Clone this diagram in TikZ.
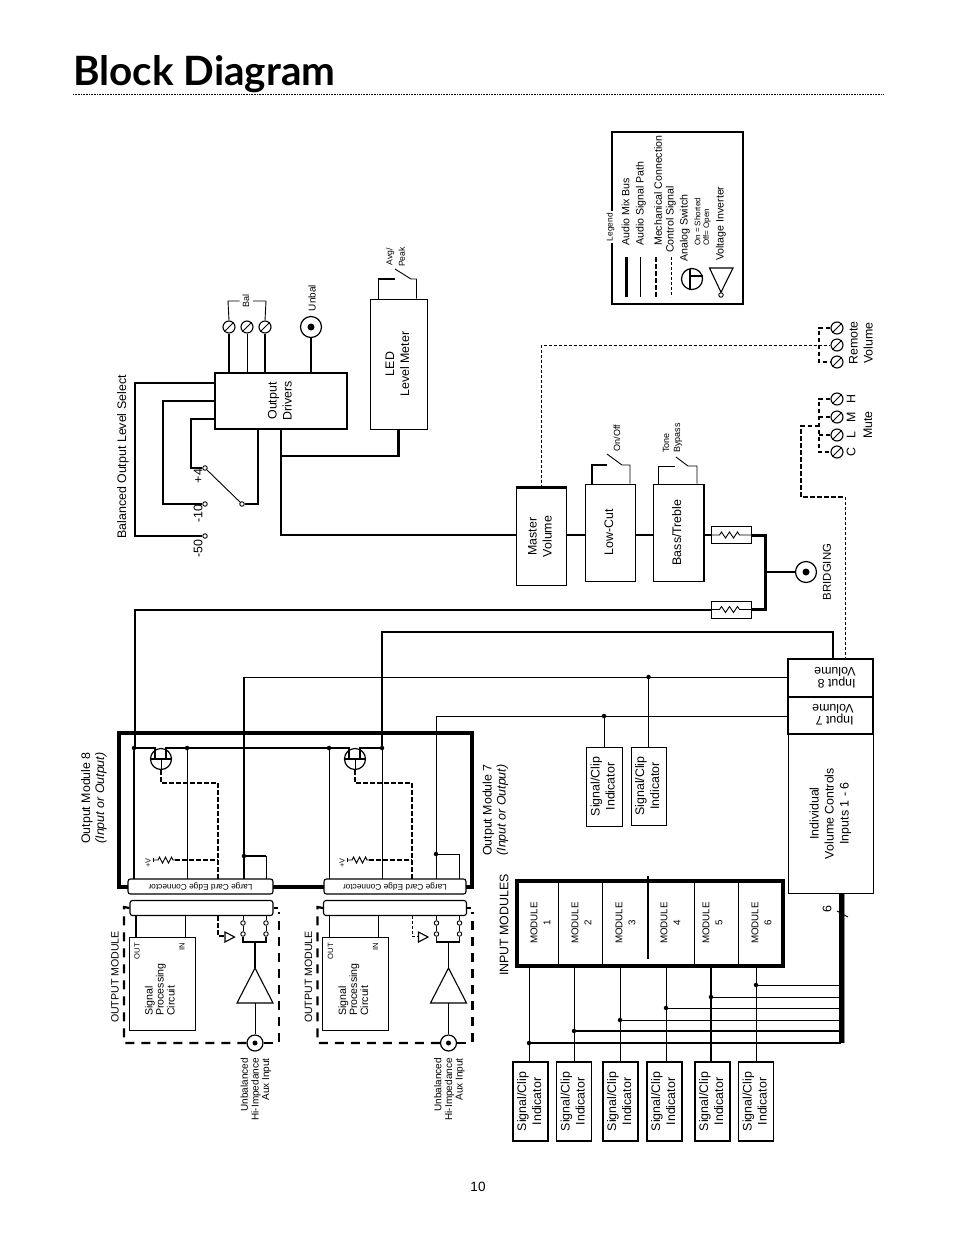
\documentclass[tikz,border=0pt]{standalone}
\usepackage{fontspec}
\setmainfont{Liberation Sans}
\newfontfamily\titlefont{Lato}
\newcommand{\vtxt}[1]{\rotatebox{90}{\begin{tabular}{@{}c@{}}#1\end{tabular}}}
\tikzset{
    box/.style={draw, line width=1pt, fill=white, inner sep=0pt, font=\fontsize{12.4}{15}\selectfont},
    lbl/.style={rotate=90, inner sep=0pt, align=center, font=\fontsize{12.4}{14}\selectfont},
    tiny lbl/.style={lbl, font=\fontsize{9}{11}\selectfont},
    small lbl/.style={lbl, font=\fontsize{10.6}{11}\selectfont},
    bus/.style={line width=2.6pt},
    med/.style={line width=1.7pt},
    sig/.style={line width=0.9pt},
    ctrl/.style={line width=0.9pt, dash pattern=on 3pt off 2pt},
    mech/.style={line width=1.8pt, dash pattern=on 4.5pt off 2.5pt},
    frame/.style={line width=2.2pt, dash pattern=on 9pt off 7pt},
    dot/.style={circle, fill, inner sep=0pt, minimum size=4.5pt},
    tap/.style={circle, draw, fill=white, line width=0.9pt, inner sep=0pt, minimum size=4.5pt},
    screw/.style={circle, draw, line width=1.1pt, inner sep=0pt, minimum size=12pt},
    jack/.style={circle, draw, line width=1.2pt, fill=white, inner sep=0pt, minimum size=#1},
    pin/.style={circle, fill, inner sep=0pt, minimum size=7pt},
    cardedge/.style={draw, line width=1.1pt, fill=white, rounded corners=2.5pt, inner sep=0pt, minimum height=15pt}
}
\begin{document}
\begin{tikzpicture}[x=1pt, y=-1pt]
    \useasboundingbox (0,0) rectangle (954,1235);

    % title
    \node[anchor=base west, inner sep=0pt, font=\titlefont\bfseries\fontsize{40.4}{42}\selectfont] (title) at (73,85) {Block Diagram};
    \coordinate (rulea) at (73,94);
    \coordinate (ruleb) at (884,94);
    \draw[line width=0.8pt, dash pattern=on 0.8pt off 0.8pt] (rulea) -- (ruleb);
    \node[inner sep=0pt, font=\fontsize{13.5}{15}\selectfont] (pageno) at (478,1187) {10};

    % legend
    \node[draw, line width=1.6pt, minimum width=131pt, minimum height=172pt] (legend) at (677.5,218) {};
    \node[tiny lbl, font=\fontsize{8.4}{10}\selectfont, fill=white, inner xsep=2pt, inner ysep=1.5pt] (legendname) at (610.5,227) {Legend};
    \foreach \n/\x/\y/\t in {a/625.5/246/Audio Mix Bus, b/641/246/Audio Signal Path, c/658/246/Mechanical Connection, d/671/253/Control Signal, e/685/262/Analog Switch, f/721/261/Voltage Inverter}
        \node[rotate=90, anchor=west, inner sep=0pt, font=\fontsize{10.6}{12}\selectfont] (legend\n) at (\x,\y) {\t};
    \node[rotate=90, anchor=west, inner sep=0pt, font=\fontsize{8}{9}\selectfont] (legendon) at (697.5,246) {On = Shorted};
    \node[rotate=90, anchor=west, inner sep=0pt, font=\fontsize{8}{9}\selectfont] (legendoff) at (707,246) {Off= Open};
    \coordinate (keya) at (626,257);
    \coordinate (keyb) at (640,257);
    \coordinate (keyc) at (656,257);
    \coordinate (keyd) at (671,257);
    \draw[line width=3pt] (keya) -- ++(0,40);
    \draw[sig] (keyb) -- ++(0,40);
    \draw[mech] (keyc) -- ++(0,40);
    \draw[ctrl] (keyd) -- ++(0,40);
    \node[circle, draw, line width=1.2pt, inner sep=0pt, minimum size=21pt] (keyfet) at (692,279) {};
    \draw[line width=1.2pt] (690,268.5) -- (690,289.5);
    \draw[line width=1.2pt] (690,276) -- (702.5,276);
    \node[circle, draw, sig, inner sep=0pt, minimum size=4.5pt] (keyinv) at (721,295) {};
    \draw[line width=1.1pt] (709.5,268) -- (733,268) -- (keyinv.north) -- cycle;

    % output drivers
    \node[box, line width=1.3pt, minimum width=132pt, minimum height=56pt] (drivers) at (281,401) {\vtxt{Output\\Drivers}};
    \node[box, minimum width=57pt, minimum height=130pt] (meter) at (398.5,364) {\vtxt{LED\\Level Meter}};
    \node[screw] (bala) at (229,327) {};
    \node[screw] (balb) at (247,327) {};
    \node[screw] (balc) at (265,327) {};
    \foreach \s in {bala,balb,balc}
        \draw[line width=1pt] (\s.south west) -- (\s.north east);
    \node[jack=21pt] (unbal) at (311,327) {};
    \node[pin] (unbalpin) at (unbal) {};
    \draw[med] (bala.south) -- (bala |- drivers.north);
    \draw[sig] (balb.south) -- (balb |- drivers.north);
    \draw[med] (balc.south) -- (balc |- drivers.north);
    \draw[med] (unbal.south) -- (unbal |- drivers.north);
    \node[tiny lbl] (ballbl) at (246,301) {Bal};
    \node[tiny lbl, font=\fontsize{10}{11}\selectfont] (unballbl) at (312,298) {Unbal};
    \coordinate (bracka) at (228,301);
    \coordinate (brackb) at (266,301);
    \draw[sig] (bala.north) -- (bracka) -- (239.5,301);
    \draw[sig] (balc.north) -- (brackb) -- (253,301);

    % meter switch
    \node[tiny lbl, font=\fontsize{8.6}{12.5}\selectfont] (avglbl) at (395.5,257) {Avg/\\Peak};
    \coordinate (avgl) at (395,279);
    \coordinate (avgr) at (411,279);
    \draw[med] ([xshift=-20pt]meter.north) |- (avgl);
    \draw[sig] ([xshift=18pt]meter.north) |- (avgr) -- (395,269);

    % level select
    \node[lbl] (sellbl) at (123,457) {Balanced Output Level Select};
    \node[tap] (tfour) at (205,468) {};
    \node[tap] (tten) at (205,504) {};
    \node[tap] (tfifty) at (205,536) {};
    \node[tap] (twiper) at (242,504) {};
    \node[lbl] (fourlbl) at (198,476) {+4};
    \node[lbl] (tenlbl) at (198,514) {-10};
    \node[lbl] (fiftylbl) at (198,549) {-50};
    \coordinate (sela) at (135,383);
    \coordinate (selb) at (163,401);
    \coordinate (selc) at (191,419);
    \coordinate (seld) at (258,429);
    \draw[line width=1.3pt] (sela -| drivers.west) -- (sela) |- (tfifty.west);
    \draw[med] (selb -| drivers.west) -- (selb) |- (tten.west);
    \draw[line width=1.3pt] (selc -| drivers.west) -- (selc) |- (tfour.west);
    \draw[sig] (tfour) -- (twiper);
    \draw[med] (twiper.east) -| (seld);

    % main bus
    \node[box, minimum width=50pt, minimum height=97pt] (master) at (541,536.5) {\vtxt{Master\\Volume}};
    \node[box, minimum width=50pt, minimum height=97pt] (lowcut) at (610,532.5) {\vtxt{Low-Cut}};
    \node[box, minimum width=50pt, minimum height=97pt] (bass) at (678,532.5) {\vtxt{Bass/Treble}};
    \draw[line width=2.4pt] (master.north west) -- (master.north east);
    \draw[line width=2pt] (bass.north east) -- (bass.south east);
    \coordinate (busx) at (281,535);
    \coordinate (busy) at (281,456);
    \draw[bus] (busx |- drivers.south) -- (busx) -- (busx -| master.west);
    \draw[bus] (busy) -| (meter.south);
    \draw[bus] (master.east |- busx) -- (lowcut.west |- busx);
    \draw[bus] (lowcut.east |- busx) -- (bass.west |- busx);

    % low cut and tone switches
    \node[tiny lbl] (onofflbl) at (617,438) {On/Off};
    \node[tiny lbl, align=left, anchor=west] (tonelbl) at (672.5,453) {Tone\\Bypass};
    \coordinate (cutl) at (607,465);
    \coordinate (cutr) at (622,465);
    \coordinate (tonel) at (675,466);
    \coordinate (toner) at (688,466);
    \draw[med] ([xshift=-18pt]lowcut.north) |- (cutl);
    \draw[sig] ([xshift=20pt]lowcut.north) |- (cutr) -- (607,454);
    \draw[sig] ([xshift=-20pt]bass.north) |- (tonel);
    \draw[sig] ([xshift=19pt]bass.north) |- (toner) -- (676,457);

    % bridging
    \node[box, minimum width=40pt, minimum height=17pt] (resa) at (731,535) {};
    \node[box, minimum width=40pt, minimum height=17pt] (resb) at (731,609.5) {};
    \foreach \r in {resa,resb}
        \draw[sig] (\r.west) -- ++(9,0) -- ++(2,-3) -- ++(4,6) -- ++(4,-6) -- ++(4,6) -- ++(4,-6) -- ++(2,3) -- (\r.east);
    \node[jack=21pt] (bridge) at (806,572) {};
    \node[pin] (bridgepin) at (bridge) {};
    \node[lbl, font=\fontsize{11.4}{13}\selectfont] (bridgelbl) at (827,572) {BRIDGING};
    \coordinate (bridgex) at (765,572);
    \draw[bus] (bass.east |- resa) -- (resa.west);
    \draw[line width=3pt] (resa.east) -| (bridgex) |- (resb.east);
    \draw[med] (bridgex) -- (bridge.west);

    % remote volume and mute
    \foreach \n/\y in {ra/328, rb/345, rc/362, ma/399, mb/417, mc/435, md/452} {
        \node[screw] (\n) at (837,\y) {};
        \draw[line width=1pt] (\n.south west) -- (\n.north east);
    }
    \node[lbl, font=\fontsize{12.4}{15}\selectfont] (remotelbl) at (861,343) {Remote\\Volume};
    \node[lbl] (hlbl) at (851,399) {H};
    \node[lbl] (mlbl) at (851,417) {M};
    \node[lbl] (llbl) at (851,435) {L};
    \node[lbl] (clbl) at (851,452) {C};
    \node[lbl] (mutelbl) at (868,425) {Mute};
    \coordinate (rbus) at (819,345);
    \coordinate (mbus) at (819,426);
    \coordinate (mleg) at (801,497);
    \coordinate (mdrop) at (845,497);
    \draw[ctrl] (master.north) |- (rb.west);
    \draw[mech, line width=1.2pt] (ra.west) -| (rbus) |- (rc.west);
    \draw[mech, line width=1.2pt] (ma.west) -| (mbus) |- (md.west);
    \draw[mech, line width=1.2pt] (mb.west) -- (mb -| mbus);
    \draw[mech, line width=1.2pt] (mc.west) -- (mc -| mbus);
    \draw[mech] (mbus) -| (mleg) -- (mdrop);

    % volume controls
    \node[draw, line width=1.6pt, minimum width=85pt, minimum height=38pt] (inpeight) at (830.5,678) {};
    \node[draw, line width=1.6pt, minimum width=85pt, minimum height=37pt] (inpseven) at (830.5,715.5) {};
    \node[box, minimum width=85pt, minimum height=159pt] (indiv) at (830.5,813.5) {\vtxt{Individual\\Volume Controls\\Inputs 1 - 6}};
    \node[rotate=180, align=left, inner sep=0pt, font=\fontsize{12.4}{12}\selectfont] (eightlbl) at (835,677.5) {Input 8\\Volume};
    \node[rotate=180, align=left, inner sep=0pt, font=\fontsize{12.4}{12}\selectfont] (sevenlbl) at (833,714.5) {Input 7\\Volume};
    \draw[ctrl] (mdrop) -- (mdrop |- inpeight.north);

    % output module frame
    \node[draw, line width=4pt, minimum width=353pt, minimum height=154pt] (outframe) at (295.5,810) {};
    \node[lbl] (outeight) at (94,798) {Output Module 8\\\textit{(Input or Output)}};
    \node[lbl] (outseven) at (495.5,810) {Output Module 7\\\textit{(Input or Output)}};

    % bus to the output cards
    \coordinate (sumy) at (135,748);
    \coordinate (sumz) at (382,748);
    \coordinate (sumtop) at (382,632);
    \coordinate (sumright) at (833,632);
    \draw[line width=2pt] (resb.west) -| (sumy);
    \draw[bus] (sumright |- inpeight.north) -- (sumright) -- (sumtop) -- (sumz);
    \draw[line width=2.2pt] (sumy) -- (155,748) -- (155,759);
    \draw[line width=2.2pt] (166,759) -- (166,748) -- (349,748) -- (349,759);
    \draw[line width=2.2pt] (360,759) -- (360,748) -- (sumz);
    \coordinate (eightin) at (244,677);
    \coordinate (sevenin) at (436,716);
    \draw[sig] (inpeight.west |- eightin) -- (eightin);
    \draw[sig] (inpseven.west |- sevenin) -- (sevenin);

    % indicators on the cards
    \node[box, minimum width=36pt, minimum height=79pt] (clipseven) at (604,786.5) {\vtxt{Signal/Clip\\Indicator}};
    \node[box, minimum width=35pt, minimum height=78pt] (clipeight) at (648.5,786) {\vtxt{Signal/Clip\\Indicator}};
    \node[dot] (dotseven) at (clipseven |- sevenin) {};
    \node[dot] (doteight) at (clipeight |- eightin) {};
    \draw[sig] (dotseven) -- (clipseven.north);
    \draw[sig] (doteight) -- (clipeight.north);

    % output cards
    \foreach \m/\dx in {a/0,b/194} {
    \begin{scope}[xshift=\dx pt]
        \node[circle, draw, line width=1.2pt, inner sep=0pt, minimum size=21pt] (fet\m) at (161,759) {};
        \draw[line width=2.2pt] ([xshift=-10pt]fet\m.center) -- ([xshift=10pt]fet\m.center);
        \coordinate (gate\m) at (218,783);
        \draw[sig] (fet\m.center) -- (fet\m.south);
        \draw[mech] (fet\m.south) |- (gate\m) -- (218,880);
        \node[inner sep=0pt, rotate=90, font=\fontsize{7.4}{9}\selectfont] (plus\m) at (148,863) {+V};
        \draw[sig] (153,858) -- (153,862);
        \draw[sig] (153,860) -- (158,860) -- ++(1.5,-3) -- ++(3,6) -- ++(3,-6) -- ++(3,6) -- ++(3,-6) -- ++(1.5,3) -- (175,860);
        \draw[mech] (175,860) -- (218,860);
    \end{scope}
    }
    \draw[line width=1.8pt] (134,748) -- (134,880);
    \draw[sig] (187,748) -- (187,880);
    \draw[line width=2pt] (eightin) -- (244,880);
    \draw[line width=1.6pt] (244,856) -- (266,856);
    \draw[sig] (266,856) -- (266,880);
    \draw[sig] (329,748) -- (329,880);
    \draw[sig] (382,748) -- (382,880);
    \draw[sig] (sevenin) -- (436,880);
    \draw[sig] (436,854) -| (459,880);
    \node[dot] (joina) at (134,748) {};
    \node[dot] (joinb) at (187,748) {};
    \node[dot] (joinc) at (329,748) {};
    \node[dot] (joind) at (382,748) {};
    \node[dot] (joine) at (244,856) {};
    \node[dot] (joinf) at (436,854) {};
    \node[cardedge, minimum width=145pt, font=\fontsize{8.3}{10}\selectfont] (edgea) at (200.5,886.5) {\rotatebox{180}{Large Card Edge Connector}};
    \node[cardedge, minimum width=142pt, font=\fontsize{8.3}{10}\selectfont] (edgeb) at (395,886.5) {\rotatebox{180}{Large Card Edge Connector}};

    % output modules
    \foreach \m/\dx in {a/0,b/193.5} {
    \begin{scope}[xshift=\dx pt]
        \node[cardedge, minimum width=143pt] (plug\m) at (201.5,908) {};
        \node[box, minimum width=66pt, minimum height=93pt] (proc\m) at (162,983.5) {};
        \node[small lbl, align=left, anchor=south west] (proctxt\m) at (175,1016) {Signal\\Processing\\Circuit};
        \node[tiny lbl, font=\fontsize{7.6}{9}\selectfont] (outlbl\m) at (137,951) {OUT};
        \node[tiny lbl, font=\fontsize{7.6}{9}\selectfont] (inlbl\m) at (182,947) {IN};
        \node[lbl, font=\fontsize{10.6}{12}\selectfont] (modlbl\m) at (115,977) {OUTPUT MODULE};
        \node[tap] (swa\m) at (243,923) {};
        \node[tap] (swb\m) at (243,934) {};
        \node[tap] (swc\m) at (266,923) {};
        \node[tap] (swd\m) at (266,934) {};
        \coordinate (mix\m) at (255,942);
        \coordinate (ampa\m) at (255,968);
        \coordinate (ampb\m) at (255,1003);
        \draw[sig] (swa\m) -- (243,915);
        \draw[sig] (swc\m) -- (266,915);
        \draw[sig] (swa\m) -- (swb\m);
        \draw[sig] (swc\m) -- (swd\m);
        \draw[line width=1.4pt] (swb\m) |- (mix\m) -| (swd\m);
        \draw[med] (mix\m) -- (ampa\m);
        \draw[line width=1.1pt] (ampa\m) -- (237,1003) -- (273,1003) -- cycle;
        \node[jack=16pt] (jack\m) at (255,1043) {};
        \node[pin, minimum size=5pt] (jackpin\m) at (jack\m) {};
        \draw[sig] (ampb\m) -- (jack\m.north);
        \draw[frame] (jack\m.west) -- (124,1043) -- (124,907) -- (plug\m.west);
        \draw[frame] (jack\m.east) -- (279,1043) -- (279,912);
        \draw[med] (plug\m.east) -- ++(4,0);
        \draw[line width=1.1pt] (225,932) -- (225,942) -- (234.5,937) -- cycle;
        \node[rotate=90, align=right, anchor=east, inner sep=0pt, font=\fontsize{10}{10.6}\selectfont] (auxlbl\m) at (256,1058) {Unbalanced\\Hi-Impedance\\Aux Input};
    \end{scope}
    }
    \draw[med] ([xshift=-26pt]proca.north) -- ++(0,-22);
    \draw[sig] ([xshift=23pt]proca.north) -- ++(0,-22);
    \draw[sig] ([xshift=-26pt]procb.north) -- ++(0,-22);
    \draw[med] ([xshift=23pt]procb.north) -- ++(0,-22);
    \coordinate (ctla) at (218,936);
    \coordinate (ctlb) at (412,936);
    \draw[mech] (ctla |- pluga.south) -- (ctla) -- (224,936);
    \draw[ctrl] (ctlb |- plugb.south) -- (ctlb) -- (418,936);

    % input modules
    \node[draw, line width=3.6pt, minimum width=266pt, minimum height=85pt] (inmods) at (650,923.5) {};
    \node[lbl] (inmodlbl) at (504,925) {INPUT MODULES};
    \foreach \x in {558,602,694,738} {
        \coordinate (div) at (\x,900);
        \draw[sig] (div |- inmods.north) -- (div |- inmods.south);
    }
    \draw[med] (648,876) -- (648,959);
    \foreach \n/\t/\b/\c in {1/540.5/529/530.5, 2/581.5/574/574, 3/625.5/620/620.5, 4/670.5/666/664.5, 5/712.5/711/712.5, 6/761.5/756/756} {
        \node[lbl, font=\fontsize{9.8}{13}\selectfont] (mod\n) at (\t,923) {MODULE\\\n};
        \node[box, line width=1.4pt, minimum width=35pt, minimum height=79pt] (clip\n) at (\c,1101.5) {\vtxt{Signal/Clip\\Indicator}};
        \coordinate (tap\n) at (\b,1000);
    }
    \foreach \n in {1,2,3,4,6}
        \draw[sig] (tap\n |- inmods.south) -- (tap\n |- clip\n.north);
    \draw[line width=2pt] (tap5 |- inmods.south) -- (tap5 |- clip5.north);

    % six channel bus
    \coordinate (sixbus) at (841,1043);
    \draw[line width=5pt] (sixbus |- indiv.south) -- (sixbus);
    \draw[line width=1.5pt, black!45] (844.5,894) -- (844.5,1043);
    \foreach \n/\y/\w in {6/985/0.9pt, 5/997/0.9pt, 4/1008/0.9pt, 3/1020/0.9pt, 2/1031/1.7pt, 1/1043/1.7pt} {
        \node[dot] (feed\n) at (tap\n |- 0,\y) {};
        \draw[line width=\w] (feed\n) -- (feed\n -| sixbus);
    }
    \node[lbl] (sixlbl) at (827,909) {6};
    \coordinate (slash) at (837,911);
    \draw[sig] (slash) -- ++(11,6);
\end{tikzpicture}
\end{document}
